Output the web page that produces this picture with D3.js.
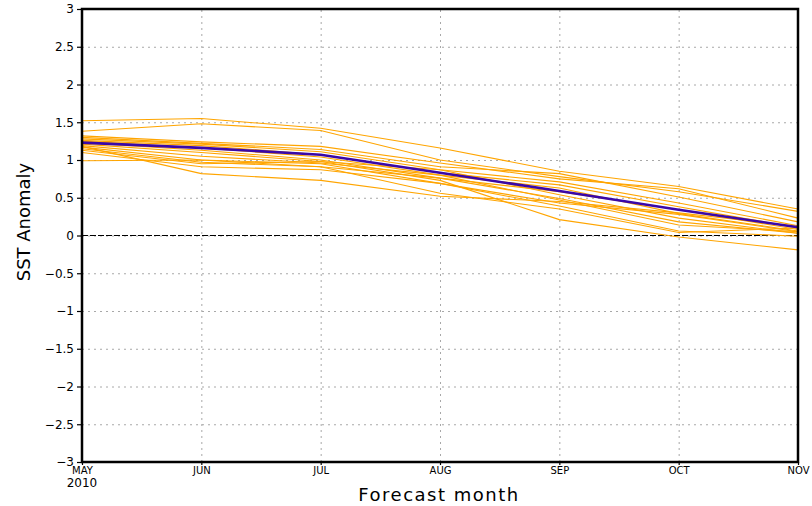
<!DOCTYPE html>
<html>
<head>
<meta charset="utf-8">
<script src="https://cdn.jsdelivr.net/npm/d3@7"></script>
<style>
  html, body { margin: 0; padding: 0; background: #fff; }
  svg { display: block; }
  text { font-family: "DejaVu Sans", sans-serif; fill: #000; }
</style>
</head>
<body>
<svg id="chart" width="812" height="506"></svg>
<script>
// Forecast months (start May 2010)
const months = ["MAY", "JUN", "JUL", "AUG", "SEP", "OCT", "NOV"];
const startYear = "2010";
const yTicks = [-3, -2.5, -2, -1.5, -1, -0.5, 0, 0.5, 1, 1.5, 2, 2.5, 3];

// Ensemble member SST anomaly forecasts
const member01 = [1.52, 1.55, 1.42, 1.16, 0.85, 0.65, 0.35];
const member02 = [1.38, 1.48, 1.39, 1.00, 0.78, 0.58, 0.32];
const member03 = [1.32, 1.24, 1.18, 0.96, 0.75, 0.62, 0.23];
const member04 = [1.30, 1.22, 1.14, 0.91, 0.82, 0.51, 0.18];
const member05 = [1.28, 1.21, 1.11, 0.87, 0.71, 0.43, 0.13];
const member06 = [1.26, 1.19, 1.07, 0.83, 0.67, 0.38, 0.10];
const member07 = [1.25, 1.16, 1.04, 0.80, 0.63, 0.29, 0.06];
const member08 = [1.23, 1.13, 1.00, 0.76, 0.58, 0.34, 0.08];
const member09 = [1.21, 1.10, 0.98, 0.87, 0.54, 0.23, 0.03];
const member10 = [1.19, 1.05, 0.96, 0.80, 0.47, 0.14, 0.05];
const member11 = [1.17, 1.00, 0.95, 0.69, 0.39, 0.06, -0.01];
const member12 = [1.15, 0.97, 0.91, 0.56, 0.35, 0.04, 0.10];
const member13 = [1.13, 0.95, 0.98, 0.73, 0.21, -0.02, -0.19];
const member14 = [1.10, 0.91, 0.87, 0.69, 0.43, 0.28, 0.05];
const member15 = [0.99, 1.00, 0.91, 0.76, 0.49, 0.18, 0.03];
const member16 = [1.18, 0.82, 0.73, 0.52, 0.45, 0.30, 0.12];
const members = [member01, member02, member03, member04, member05, member06, member07, member08,
                 member09, member10, member11, member12, member13, member14, member15, member16];

// Ensemble mean
const ensembleMean = [1.23, 1.16, 1.07, 0.83, 0.59, 0.34, 0.11];

const svg = d3.select("#chart");
const plot = { left: 82, right: 798, top: 9, bottom: 462 };

const x = d3.scalePoint().domain(months).range([plot.left, plot.right]);
const y = d3.scaleLinear().domain([-3, 3]).range([plot.bottom, plot.top]);
const fmt = d => String(d).replace("-", "\u2212");

// dotted grid
svg.append("g")
  .attr("transform", `translate(${plot.left},0)`)
  .call(d3.axisLeft(y).tickValues(yTicks).tickSize(-(plot.right - plot.left)).tickFormat(""))
  .call(g => g.select(".domain").remove())
  .selectAll("line")
  .attr("stroke", "#a8a8a8").attr("stroke-width", 1).attr("stroke-dasharray", "2,4");

svg.append("g")
  .attr("transform", `translate(0,${plot.bottom})`)
  .call(d3.axisBottom(x).tickSize(-(plot.bottom - plot.top)).tickFormat(""))
  .call(g => g.select(".domain").remove())
  .selectAll("line")
  .attr("stroke", "#a8a8a8").attr("stroke-width", 1).attr("stroke-dasharray", "2,4");

// zero line
svg.append("line")
  .attr("x1", plot.left).attr("x2", plot.right)
  .attr("y1", y(0)).attr("y2", y(0))
  .attr("stroke", "#000").attr("stroke-width", 1).attr("stroke-dasharray", "6,2");

const line = d3.line().x((d, i) => x(months[i])).y(d => y(d));

svg.append("g").selectAll("path")
  .data(members)
  .join("path")
  .attr("d", line)
  .attr("fill", "none")
  .attr("stroke", "#ffa500")
  .attr("stroke-width", 1.1);

svg.append("path")
  .datum(ensembleMean)
  .attr("d", line)
  .attr("fill", "none")
  .attr("stroke", "#3a08a8")
  .attr("stroke-width", 2.6);

// frame
svg.append("rect")
  .attr("x", plot.left).attr("y", plot.top)
  .attr("width", plot.right - plot.left).attr("height", plot.bottom - plot.top)
  .attr("fill", "none").attr("stroke", "#000").attr("stroke-width", 2.5);

// left axis
const ya = svg.append("g")
  .attr("transform", `translate(${plot.left},0)`)
  .call(d3.axisLeft(y).tickValues(yTicks).tickSize(5).tickPadding(3).tickFormat(fmt));
ya.select(".domain").remove();
ya.selectAll("line").attr("stroke", "#000").attr("stroke-width", 1.2);
ya.selectAll("text").attr("font-size", 12).attr("font-family", "DejaVu Sans, sans-serif");

// bottom axis
const xa = svg.append("g")
  .attr("transform", `translate(0,${plot.bottom})`)
  .call(d3.axisBottom(x).tickSize(3).tickPadding(2));
xa.select(".domain").remove();
xa.selectAll("line").attr("stroke", "#000").attr("stroke-width", 1.2);
xa.selectAll("text").attr("font-size", 10).attr("font-family", "DejaVu Sans, sans-serif");

svg.append("text")
  .attr("x", x(months[0])).attr("y", plot.bottom + 25)
  .attr("text-anchor", "middle").attr("font-size", 12)
  .text(startYear);

// axis titles
svg.append("text")
  .attr("x", 439).attr("y", 501)
  .attr("text-anchor", "middle").attr("font-size", 18)
  .attr("letter-spacing", 1.5)
  .text("Forecast month");

svg.append("text")
  .attr("transform", `translate(30,222) rotate(-90)`)
  .attr("text-anchor", "middle").attr("font-size", 18)
  .text("SST Anomaly");
</script>
</body>
</html>
